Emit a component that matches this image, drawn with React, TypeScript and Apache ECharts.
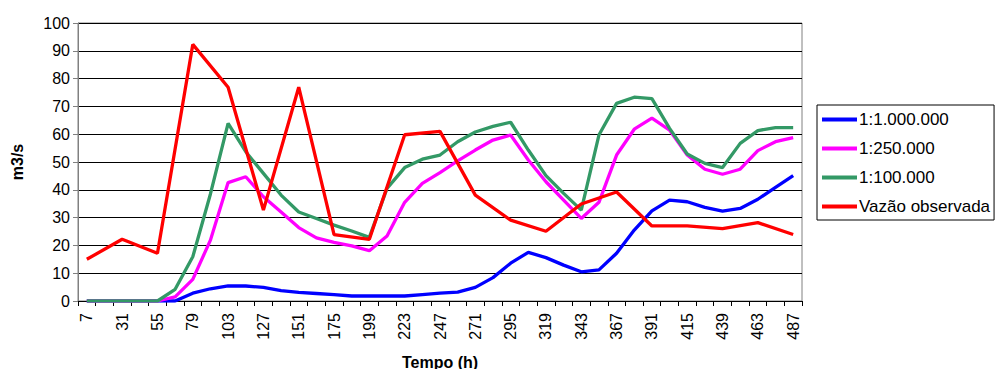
import React, { useEffect, useRef } from "react";
import * as echarts from "echarts";

const hours: string[] = [
  "7", "19", "31", "43", "55", "67", "79", "91", "103", "115", "127", "139", "151", "163", "175", "187", "199",
  "211", "223", "235", "247", "259", "271", "283", "295", "307", "319", "331", "343", "355", "367", "379", "391",
  "403", "415", "427", "439", "451", "463", "475", "487",
];

const scale1M: number[] = [
  0, 0, 0, 0, 0, 0, 2.8, 4.4, 5.4, 5.4, 4.9, 3.7, 3.1, 2.7, 2.3, 1.8, 1.8,
  1.8, 1.8, 2.3, 2.8, 3.2, 4.9, 8.4, 13.6, 17.5, 15.6, 12.9, 10.5, 11.2, 17.2, 25.5, 32.4,
  36.3, 35.7, 33.7, 32.3, 33.3, 36.6, 40.9, 45.1,
];

const scale250k: number[] = [
  0, 0, 0, 0, 0, 1.5, 7.8, 21.9, 42.6, 44.7, 37.5, 32.0, 26.4, 22.7, 21.1, 19.8, 18.1,
  23.4, 35.5, 42.3, 46.2, 50.4, 54.3, 57.9, 59.7, 50.7, 42.9, 36.3, 29.7, 35.5, 52.5, 61.8, 65.8,
  61.5, 52.5, 47.4, 45.6, 47.4, 54.1, 57.3, 58.8,
];

const scale100k: number[] = [
  0, 0, 0, 0, 0, 4.2, 15.9, 38.5, 63.9, 53.7, 45.9, 38.1, 32.0, 29.7, 27.3, 25.2, 22.9,
  40.5, 48.0, 51.0, 52.5, 57.3, 60.8, 62.8, 64.3, 54.3, 45.1, 38.7, 32.7, 59.7, 71.1, 73.3, 72.8,
  62.1, 52.9, 49.5, 48.0, 56.7, 61.3, 62.4, 62.4,
];

const observed: (number | null)[] = [
  15.0, null, 22.2, null, 17.2, null, 92.3, null, 76.9, null, 32.7, null, 76.9, null, 23.9, null, 22.2,
  null, 59.8, null, 61.0, null, 38.1, null, 29.1, null, 25.1, null, 34.9, null, 39.2, null, 27.0,
  null, 27.0, null, 26.0, null, 28.2, null, 23.9,
];

const seriesNames = ["1:1.000.000", "1:250.000", "1:100.000", "Vazão observada"];
const yTicks = { min: 0, max: 100, interval: 10 };

export default function App() {
  const ref = useRef<HTMLDivElement>(null);
  useEffect(() => {
    if (!ref.current) return;
    const chart = echarts.init(ref.current, undefined, { renderer: "svg" });
    const font = "'Liberation Sans', Arial, sans-serif";
    const mk = (name: string, data: (number | null)[], color: string) => ({
      name,
      type: "line",
      data,
      showSymbol: false,
      symbol: "none",
      connectNulls: true,
      lineStyle: { color, width: 3.3 },
      itemStyle: { color },
    });
    chart.setOption({
      animation: false,
      textStyle: { fontFamily: font },
      grid: {
        left: 78,
        right: 197,
        top: 23,
        bottom: 68,
        outerBoundsMode: "none",
        containLabel: false,
        show: true,
        borderColor: "#808080",
        borderWidth: 1,
      },
      legend: {
        orient: "vertical",
        left: 817,
        top: 105,
        data: seriesNames,
        icon: "rect",
        itemWidth: 35,
        itemHeight: 4,
        itemGap: 12,
        padding: [6, 4, 5, 5],
        borderColor: "#000",
        borderWidth: 1,
        textStyle: { fontSize: 17, color: "#000", fontFamily: font, padding: [0, 0, 0, -3] },
      },
      xAxis: {
        type: "category",
        data: hours,
        boundaryGap: true,
        name: "Tempo (h)",
        nameLocation: "middle",
        nameGap: 53,
        nameTextStyle: { fontSize: 16, fontWeight: "bold", color: "#000", fontFamily: font },
        axisLine: { show: true, lineStyle: { color: "#000", width: 1 } },
        axisTick: { show: true, interval: 0, length: 5, lineStyle: { color: "#000" } },
        axisLabel: {
          interval: 1,
          rotate: 90,
          margin: 12,
          fontSize: 16,
          color: "#000",
          fontFamily: font,
        },
        splitLine: { show: false },
      },
      yAxis: {
        type: "value",
        min: yTicks.min,
        max: yTicks.max,
        interval: yTicks.interval,
        name: "m3/s",
        nameLocation: "middle",
        nameGap: 53,
        nameTextStyle: { fontSize: 16, fontWeight: "bold", color: "#000", fontFamily: font },
        axisLine: { show: true, lineStyle: { color: "#808080", width: 1 } },
        axisTick: { show: true, length: 5, lineStyle: { color: "#808080" } },
        axisLabel: { fontSize: 16, color: "#000", margin: 8, fontFamily: font },
        splitLine: { show: true, lineStyle: { color: "#000", width: 1 } },
      },
      series: [
        mk(seriesNames[0], scale1M, "#0000FF"),
        mk(seriesNames[1], scale250k, "#FF00FF"),
        mk(seriesNames[2], scale100k, "#339966"),
        mk(seriesNames[3], observed, "#FF0000"),
      ],
    });
    return () => chart.dispose();
  }, []);
  return <div ref={ref} style={{ width: 999, height: 369, position: "absolute", left: 0, top: 0 }} />;
}
